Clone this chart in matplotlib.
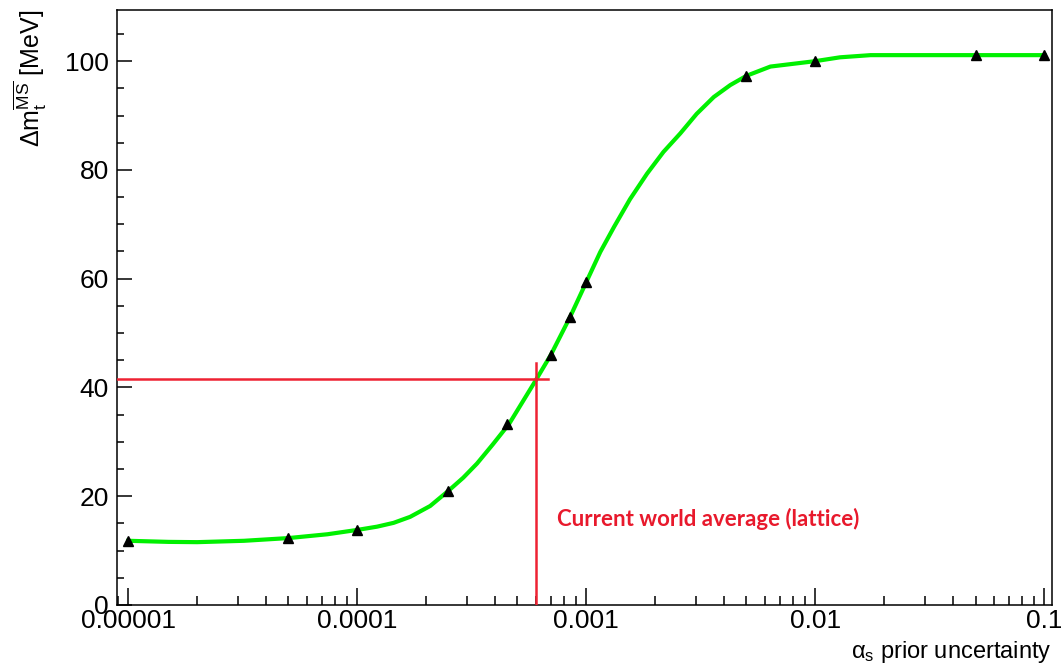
import matplotlib
matplotlib.use("Agg")
import matplotlib.pyplot as plt
from matplotlib.ticker import LogLocator, FixedLocator, FixedFormatter, MultipleLocator, NullFormatter

plt.rcParams['font.family'] = ['Liberation Sans', 'DejaVu Sans']
plt.rcParams['mathtext.fontset'] = 'custom'
plt.rcParams['mathtext.rm'] = 'Liberation Sans'
plt.rcParams['mathtext.it'] = 'Liberation Sans'
plt.rcParams['mathtext.bf'] = 'Liberation Sans:bold'

# measured points (black triangles)
alpha_unc = [1e-5, 5e-5, 1e-4, 2.5e-4, 4.5e-4, 7e-4, 8.5e-4, 1e-3, 5e-3, 1e-2, 5e-2, 1e-1]
delta_mt = [11.8, 12.3, 13.8, 21.0, 33.3, 46.0, 53.0, 59.4, 97.3, 100.0, 101.1, 101.1]

# smooth green curve
curve_x = [1e-5, 1.5e-5, 2.0e-5, 3.2e-5, 5e-5, 7.4e-5, 1e-4, 1.22e-4, 1.44e-4, 1.7e-4,
           2.08e-4, 2.5e-4, 2.9e-4, 3.33e-4, 3.9e-4, 4.6e-4, 6.05e-4, 7e-4, 8.5e-4, 1e-3,
           1.15e-3, 1.32e-3, 1.55e-3, 1.84e-3, 2.17e-3, 2.57e-3, 3.03e-3, 3.6e-3, 4.25e-3,
           5e-3, 6.36e-3, 1e-2, 1.28e-2, 1.74e-2, 5e-2, 1e-1]
curve_y = [11.8, 11.6, 11.55, 11.8, 12.3, 13.0, 13.8, 14.4, 15.1, 16.2,
           18.2, 21.0, 23.4, 26.0, 29.5, 33.3, 41.5, 46.0, 53.0, 59.4,
           64.9, 69.5, 74.6, 79.3, 83.3, 86.7, 90.3, 93.4, 95.6,
           97.3, 99.0, 100.0, 100.7, 101.1, 101.1, 101.1]

# world average marker lines
world_avg_x = 6.05e-4
world_avg_y = 41.5
hline_end = 6.8e-4
vline_top = 44.5

tick_vals = [1e-5, 1e-4, 1e-3, 1e-2, 1e-1]
tick_labels = ["0.00001", "0.0001", "0.001", "0.01", "0.1"]

fig = plt.figure(figsize=(10.61, 6.67), dpi=100)
ax = fig.add_axes([0.1107, 0.0930, 0.8805, 0.892])

ax.plot(curve_x, curve_y, color='#00f000', lw=3, solid_joinstyle='round', zorder=2)
ax.plot(alpha_unc, delta_mt, linestyle='none', marker='^', color='black', markersize=7, zorder=3)

xmin, xmax = 8.97e-6, 0.1075
ax.plot([xmin, hline_end], [world_avg_y, world_avg_y], color='#ee2233', lw=1.8, zorder=4)
ax.plot([world_avg_x, world_avg_x], [0, vline_top], color='#ee2233', lw=1.8, zorder=4)

ax.text(7.45e-4, 15.8, "Current world average (lattice)", color='#e8192c',
        fontsize=16, fontweight='bold', family=['Lato', 'DejaVu Sans'], ha='left', va='center')

ax.set_xscale('log')
ax.set_xlim(xmin, xmax)
ax.set_ylim(0, 109.4)

ax.xaxis.set_major_locator(FixedLocator(tick_vals))
ax.xaxis.set_major_formatter(FixedFormatter(tick_labels))
ax.xaxis.set_minor_locator(LogLocator(base=10, subs=range(2, 10), numticks=20))
ax.xaxis.set_minor_formatter(NullFormatter())
ax.yaxis.set_major_locator(MultipleLocator(20))
ax.yaxis.set_minor_locator(MultipleLocator(5))

ax.tick_params(axis='x', which='major', direction='in', length=12, width=1.1, labelsize=19, pad=3, top=False)
ax.tick_params(axis='x', which='minor', direction='in', length=6.5, width=1.1, top=False)
ax.tick_params(axis='y', which='major', direction='in', length=11, width=1.1, labelsize=19, pad=6, right=False)
ax.tick_params(axis='y', which='minor', direction='in', length=5, width=1.1, right=False)
for s in ax.spines.values():
    s.set_linewidth(1.1)

ax.set_xlabel(r'$\alpha_{\mathrm{s}}$ prior uncertainty', fontsize=17, loc='right', labelpad=4)
ax.set_ylabel(r'$\Delta\mathrm{m}_{\mathrm{t}}^{\overline{\mathrm{MS}}}$ [MeV]', fontsize=18, loc='top', labelpad=12)

fig.savefig("out.png", dpi=100)
